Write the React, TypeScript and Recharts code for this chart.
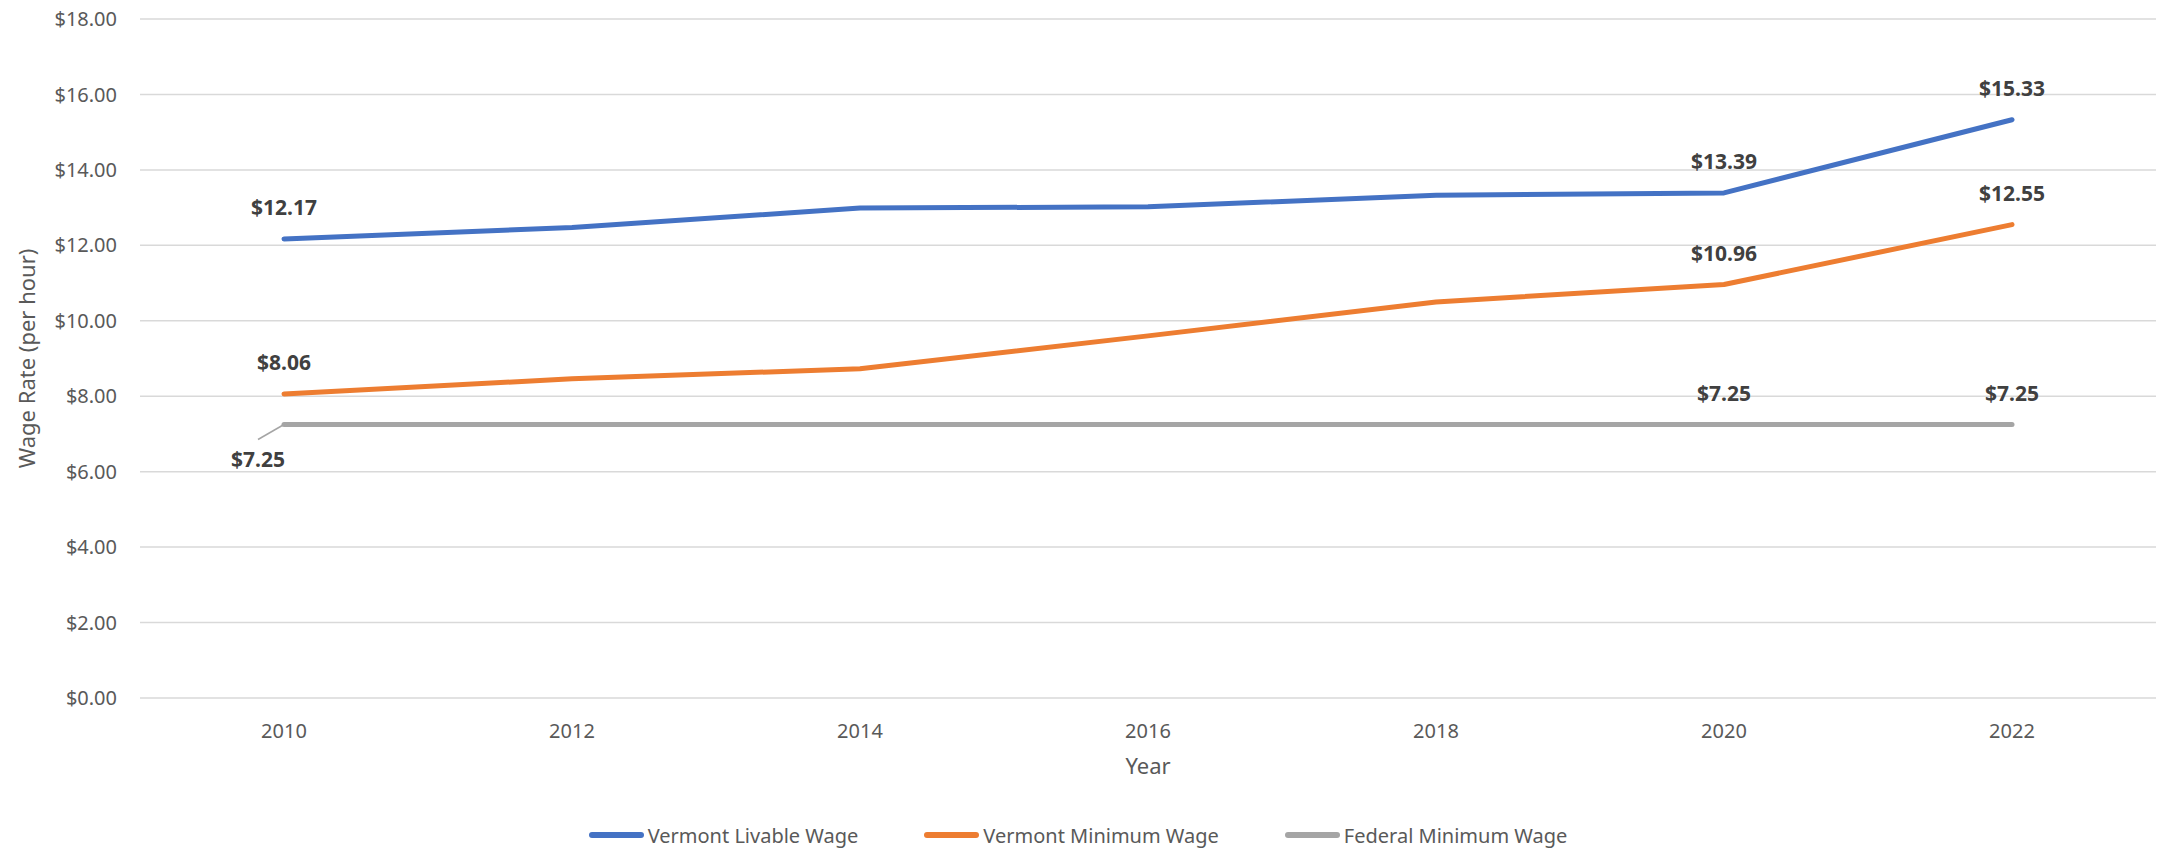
import { CartesianGrid, LabelList, Legend, Line, LineChart, XAxis, YAxis } from 'recharts'

const years = ['2010', '2012', '2014', '2016', '2018', '2020', '2022']
const livableWage = [12.17, 12.47, 12.99, 13.02, 13.33, 13.39, 15.33]
const vermontMinimum = [8.06, 8.46, 8.73, 9.6, 10.5, 10.96, 12.55]
const federalMinimum = [7.25, 7.25, 7.25, 7.25, 7.25, 7.25, 7.25]
const yTicks = [0, 2, 4, 6, 8, 10, 12, 14, 16, 18]
// 値ラベルを出す年
const labeledYears = ['2010', '2020', '2022']

const SERIES = [
  { key: 'livable', name: 'Vermont Livable Wage', color: '#4472C4' },
  { key: 'vtMin', name: 'Vermont Minimum Wage', color: '#ED7D31' },
  { key: 'fedMin', name: 'Federal Minimum Wage', color: '#A5A5A5' },
]

const data = years.map((year, i) => ({
  year,
  livable: livableWage[i],
  vtMin: vermontMinimum[i],
  fedMin: federalMinimum[i],
}))

const FONT = '"Noto Sans", "Open Sans", sans-serif'
const money = (v: number) => `$${v.toFixed(2)}`

function makeLabel(seriesKey: string) {
  return (props: any) => {
    const { x, y, value, index } = props
    if (!labeledYears.includes(years[index])) return null
    const style = { fontFamily: FONT, fontSize: 21, fontWeight: 700, fill: '#404040' }
    // 連邦最低賃金の最初の点だけ左下に引き出し線付きで表示
    if (seriesKey === 'fedMin' && index === 0) {
      return (
        <g key={`${seriesKey}-${index}`}>
          <line x1={x} y1={y} x2={x - 26} y2={y + 15} stroke="#A5A5A5" strokeWidth={1.5} />
          <text x={x - 26} y={y + 35} dy="0.35em" textAnchor="middle" style={style}>
            {money(value)}
          </text>
        </g>
      )
    }
    return (
      <text key={`${seriesKey}-${index}`} x={x} y={y - 31} dy="0.35em" textAnchor="middle" style={style}>
        {money(value)}
      </text>
    )
  }
}

function YTitle(props: any) {
  const { viewBox } = props
  const cx = viewBox.x + 27
  const cy = viewBox.y + viewBox.height / 2
  return (
    <text
      x={cx}
      y={cy}
      dy="0.35em"
      textAnchor="middle"
      transform={`rotate(-90, ${cx}, ${cy})`}
      style={{ fontFamily: FONT, fontSize: 22, fill: '#595959' }}
    >
      Wage Rate (per hour)
    </text>
  )
}

function XTitle(props: any) {
  const { viewBox } = props
  return (
    <text
      x={viewBox.x + viewBox.width / 2}
      y={viewBox.y + 68}
      dy="0.35em"
      textAnchor="middle"
      style={{ fontFamily: FONT, fontSize: 22, fill: '#595959' }}
    >
      Year
    </text>
  )
}

function LegendContent() {
  return (
    <div
      style={{
        height: 32,
        display: 'flex',
        justifyContent: 'center',
        alignItems: 'center',
        gap: 66,
        fontFamily: FONT,
        fontSize: 20,
        color: '#595959',
      }}
    >
      {SERIES.map((s) => (
        <div key={s.key} style={{ display: 'flex', alignItems: 'center' }}>
          <span
            style={{
              display: 'inline-block',
              width: 55,
              height: 6,
              borderRadius: 3,
              background: s.color,
              marginRight: 4,
            }}
          />
          {s.name}
        </div>
      ))}
    </div>
  )
}

export default function App() {
  return (
    <div style={{ position: 'absolute', left: 0, top: 0 }}>
      <LineChart width={2158} height={851} data={data} margin={{ top: 19, right: 2, bottom: 0, left: 0 }}>
        <CartesianGrid horizontal vertical={false} stroke="#D9D9D9" strokeWidth={1.5} />
        <XAxis
          dataKey="year"
          height={121}
          padding={{ left: 144, right: 144 }}
          axisLine={false}
          tickLine={false}
          tickMargin={20}
          tick={{ fontFamily: FONT, fontSize: 20, fill: '#595959' }}
          label={<XTitle />}
        />
        <YAxis
          width={140}
          domain={[0, 18]}
          ticks={yTicks}
          tickFormatter={money}
          axisLine={false}
          tickLine={false}
          tickMargin={17}
          tick={{ fontFamily: FONT, fontSize: 20, fill: '#595959' }}
          label={<YTitle />}
        />
        <Legend verticalAlign="bottom" content={<LegendContent />} />
        {SERIES.map((s) => (
          <Line
            key={s.key}
            type="linear"
            dataKey={s.key}
            name={s.name}
            stroke={s.color}
            strokeWidth={5}
            strokeLinecap="round"
            strokeLinejoin="round"
            dot={false}
            activeDot={false}
            isAnimationActive={false}
          >
            <LabelList dataKey={s.key} content={makeLabel(s.key)} />
          </Line>
        ))}
      </LineChart>
    </div>
  )
}
